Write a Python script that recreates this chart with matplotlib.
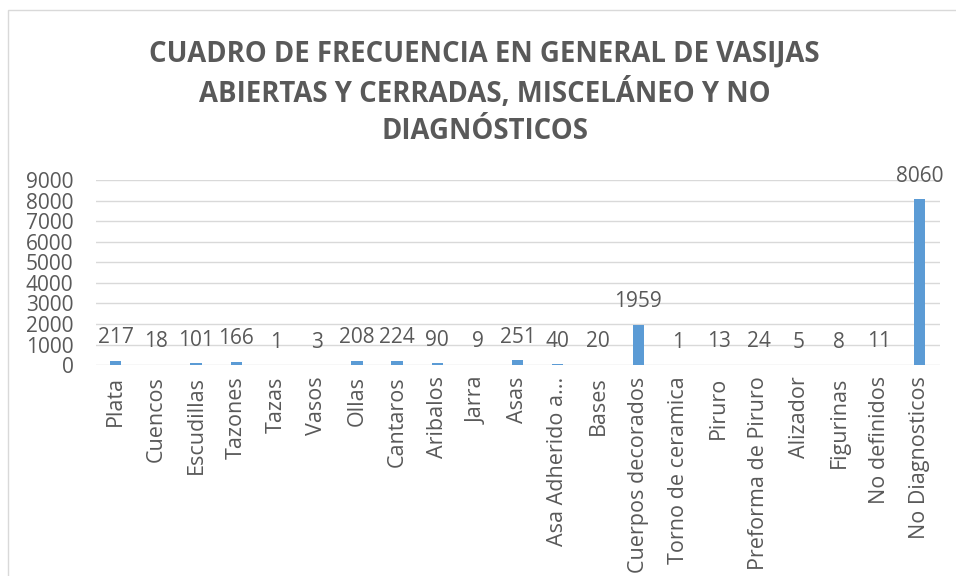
import matplotlib
matplotlib.use("Agg")
import matplotlib.pyplot as plt
from matplotlib.patches import Rectangle

plt.rcParams['font.family'] = ['Open Sans', 'DejaVu Sans']

categories = ["Plata", "Cuencos", "Escudillas", "Tazones", "Tazas", "Vasos",
              "Ollas", "Cantaros", "Aribalos", "Jarra", "Asas",
              "Asa Adherido a...", "Bases", "Cuerpos decorados",
              "Torno de ceramica", "Piruro", "Preforma de Piruro",
              "Alizador", "Figurinas", "No definidos", "No Diagnosticos"]
counts = [217, 18, 101, 166, 1, 3, 208, 224, 90, 9, 251, 40, 20, 1959,
          1, 13, 24, 5, 8, 11, 8060]
yticks = [0, 1000, 2000, 3000, 4000, 5000, 6000, 7000, 8000, 9000]

title = ("CUADRO DE FRECUENCIA EN GENERAL DE VASIJAS\n"
         "ABIERTAS Y CERRADAS, MISCELÁNEO Y NO\nDIAGNÓSTICOS")

gray = "#595959"
bar_color = "#5B9BD5"

fig = plt.figure(figsize=(9.56, 5.76), dpi=100)
ax = fig.add_axes([0.100, 0.366, 0.883, 0.3215])

# chart border (only left and top edges are visible)
fig.patches.append(Rectangle((8 / 956, -0.1), 1.2, 1.1 - 10 / 576,
                             transform=fig.transFigure, fill=False,
                             edgecolor="#D9D9D9", linewidth=1.0))

x = list(range(len(categories)))
ax.bar(x, counts, width=0.28, color=bar_color, zorder=3)

for xi, v in zip(x, counts):
    ax.annotate(str(v), (xi, v), xytext=(0, 9), textcoords="offset points",
                ha="center", va="bottom", fontsize=15, color=gray)

ax.set_ylim(0, 9000)
ax.set_xlim(-0.5, len(categories) - 0.5)
ax.set_yticks(yticks)
ax.set_xticks(x)
ax.set_xticklabels(categories, rotation=90, fontsize=15.5, color=gray)
ax.tick_params(axis="y", labelsize=15, labelcolor=gray, length=0, pad=16)
ax.tick_params(axis="x", length=0, pad=8)
ax.grid(axis="y", color="#D9D9D9", linewidth=1.0, zorder=0)
for s in ax.spines.values():
    s.set_visible(False)

fig.text(0.507, 0.931, title, ha="center", va="top", fontsize=19.8,
         fontweight="bold", color=gray, linespacing=1.37)

fig.savefig("out.png", dpi=100)
